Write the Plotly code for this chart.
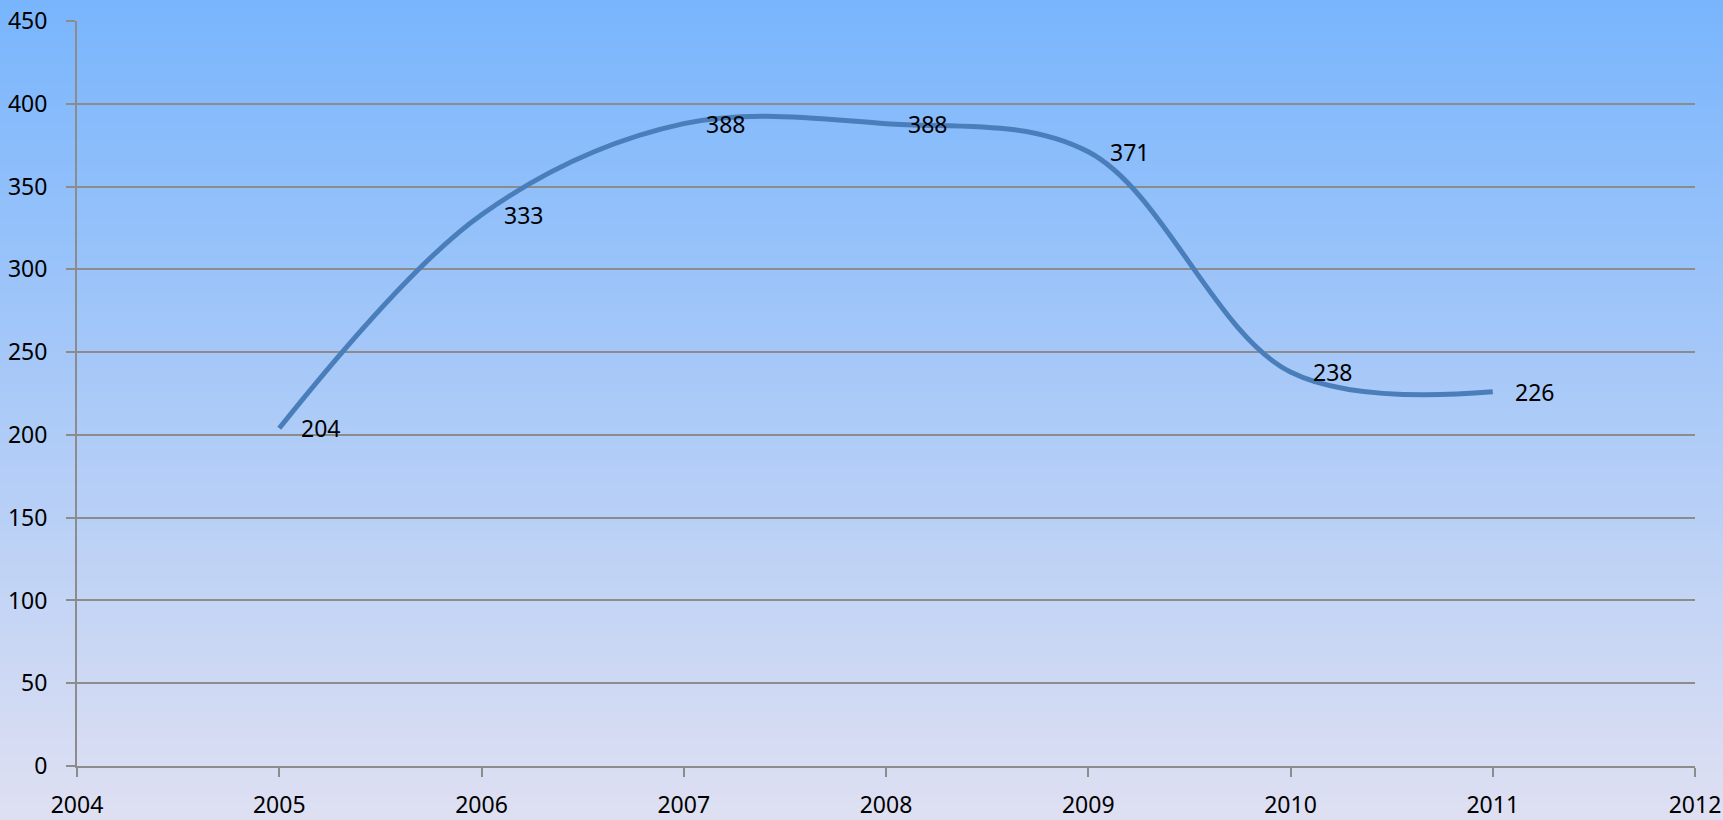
import plotly.graph_objects as go

years = [2005, 2006, 2007, 2008, 2009, 2010, 2011]
values = [204, 333, 388, 388, 371, 238, 226]
x_ticks = list(range(2004, 2013))
y_ticks = list(range(0, 451, 50))

W, H = 1723, 820
ML, MR, MT, MB = 77, 28, 21, 54
pw, ph = W - ML - MR, H - MT - MB

top_col = (0x78, 0xB5, 0xFD)
bot_col = (0xDF, 0xE0, 0xF2)

fig = go.Figure()
fig.add_trace(go.Scatter(
    x=years, y=values, mode="lines",
    line=dict(color="#4A7EBB", width=5, shape="spline", smoothing=1.0),
    hoverinfo="x+y", showlegend=False,
))

# background gradient bands (paper coords spanning whole figure)
shapes = []
N = 100
for i in range(N):
    f0 = i / N
    f1 = (i + 1) / N
    fm = (f0 + f1) / 2
    c = tuple(round(top_col[k] + (bot_col[k] - top_col[k]) * fm) for k in range(3))
    py0 = H * f0
    py1 = H * f1
    y_top = 1 - (py0 - MT) / ph
    y_bot = 1 - (py1 - MT) / ph
    shapes.append(dict(
        type="rect", xref="paper", yref="paper",
        x0=-ML / pw - 0.01, x1=1 + MR / pw + 0.01,
        y0=y_bot - 0.001, y1=y_top + 0.001,
        fillcolor="rgb(%d,%d,%d)" % c, line=dict(width=0), layer="below",
    ))

annotations = []
for xv, yv in zip(years, values):
    annotations.append(dict(
        x=xv, y=yv, xref="x", yref="y", text=str(yv), showarrow=False,
        xanchor="left", yanchor="middle", xshift=20,
        font=dict(family="Noto Sans", size=23, color="black"),
    ))

grid_col = "#8C8C8C"
fig.update_layout(
    width=W, height=H,
    autosize=False,
    margin=dict(l=ML, r=MR, t=MT, b=MB, pad=0),
    paper_bgcolor="rgb(%d,%d,%d)" % bot_col,
    plot_bgcolor="rgba(0,0,0,0)",
    shapes=shapes,
    annotations=annotations,
    font=dict(family="Noto Sans", size=23, color="black"),
    xaxis=dict(
        range=[2004, 2012], tickvals=x_ticks, ticktext=[str(t) for t in x_ticks],
        showgrid=False, zeroline=False, showline=True, linecolor=grid_col, linewidth=2,
        ticks="outside", ticklen=9, tickcolor=grid_col, tickwidth=2,
        ticklabelstandoff=8, tickfont=dict(size=23), automargin=False,
    ),
    yaxis=dict(
        range=[0, 450], tickvals=y_ticks,
        showgrid=True, gridcolor=grid_col, gridwidth=2,
        zeroline=False, showline=True, linecolor=grid_col, linewidth=2,
        ticks="outside", ticklen=9, tickcolor=grid_col, tickwidth=2,
        ticklabelstandoff=14, tickfont=dict(size=23), automargin=False,
    ),
)

post = ("document.body.style.margin='0';document.body.style.padding='0';"
        "document.body.style.overflow='hidden';"
        "document.body.style.background='rgb(%d,%d,%d)';" % top_col)

fig.write_html("out.html", post_script=post, config={"displayModeBar": False})
